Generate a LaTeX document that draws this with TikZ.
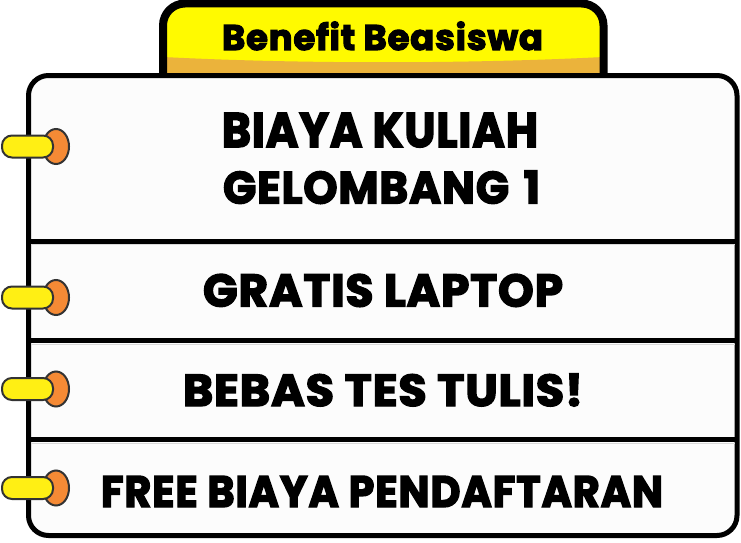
\documentclass[tikz,border=0pt]{standalone}
\usepackage{fontspec}
\usepackage{graphicx}
\newfontfamily\popfont{Poppins}[UprightFeatures={FakeBold=3.2},BoldFeatures={FakeBold=3.2},LetterSpace=2]
\definecolor{tabyellow}{HTML}{FFFA00}
\definecolor{tabband}{HTML}{EBB33B}
\definecolor{pegyellow}{HTML}{FFEF14}
\definecolor{pegorange}{HTML}{F58A35}
\definecolor{pegline}{HTML}{333333}
\definecolor{boxfill}{HTML}{FCFCFC}
\tikzset{
  lbl/.style={inner sep=0pt, outer sep=0pt, anchor=base, font=\popfont\bfseries},
  divline/.style={line width=5pt, black},
  divshade/.style={line width=1pt, black!15},
  pegbulb/.style={fill=pegorange, draw=pegline, line width=2pt},
  pegbar/.style={fill=pegyellow, draw=pegline, line width=2pt, rounded corners=10pt},
}
\newcommand{\mypeg}[1]{%
  \filldraw[pegbulb] (56,#1) ellipse (13 and 17.5);
  \filldraw[pegbar] (2,#1-11) rectangle (53,#1+11);
}
\begin{document}
\begin{tikzpicture}[x=1pt,y=-1pt]
\useasboundingbox (0,0) rectangle (741,543);
\fill[white] (0,0) rectangle (741,543);
% tab
\fill[tabyellow, rounded corners=22pt] (163,77) -- (163,3.5) -- (603.5,3.5) -- (603.5,77) -- cycle;
\fill[tabband] (163,57) .. controls (300,64) and (466,64) .. (603.5,57) -- (603.5,77) -- (163,77) -- cycle;
\draw[line width=8pt, rounded corners=22pt] (163,77) -- (163,3.5) -- (603.5,3.5) -- (603.5,77);
% main box
\draw[line width=5pt, fill=boxfill, rounded corners=20pt] (28.5,75.5) rectangle (737,535.5);
% dividers
\foreach \yy in {241,340.5,439.5}{
  \draw[divshade] (31,\yy+3.5) -- (734.5,\yy+3.5);
  \draw[divline] (28.5,\yy) -- (737,\yy);
}
% pegs
\mypeg{146.5}
\mypeg{297.5}
\mypeg{389}
\mypeg{488}
% texts
\node[lbl] (title) at (382.5,50) {\resizebox{321pt}{!}{\popfont\bfseries Benefit Beasiswa}};
\node[lbl] (l1a) at (380,147) {\resizebox{316pt}{34pt}{\popfont\bfseries BIAYA KULIAH}};
\node[lbl] (l1b) at (381.5,203.5) {\resizebox{317pt}{33pt}{\popfont\bfseries GELOMBANG\,\,1}};
\node[lbl] (l2) at (383,306.5) {\resizebox{360pt}{32.5pt}{\popfont\bfseries GRATIS LAPTOP}};
\node[lbl] (l3) at (383,406) {\resizebox{400pt}{32.5pt}{\popfont\bfseries BEBAS TES TULIS!}};
\node[lbl] (l4) at (382,507) {\resizebox{562pt}{31pt}{\popfont\bfseries FREE BIAYA PENDAFTARAN}};
\end{tikzpicture}
\end{document}
